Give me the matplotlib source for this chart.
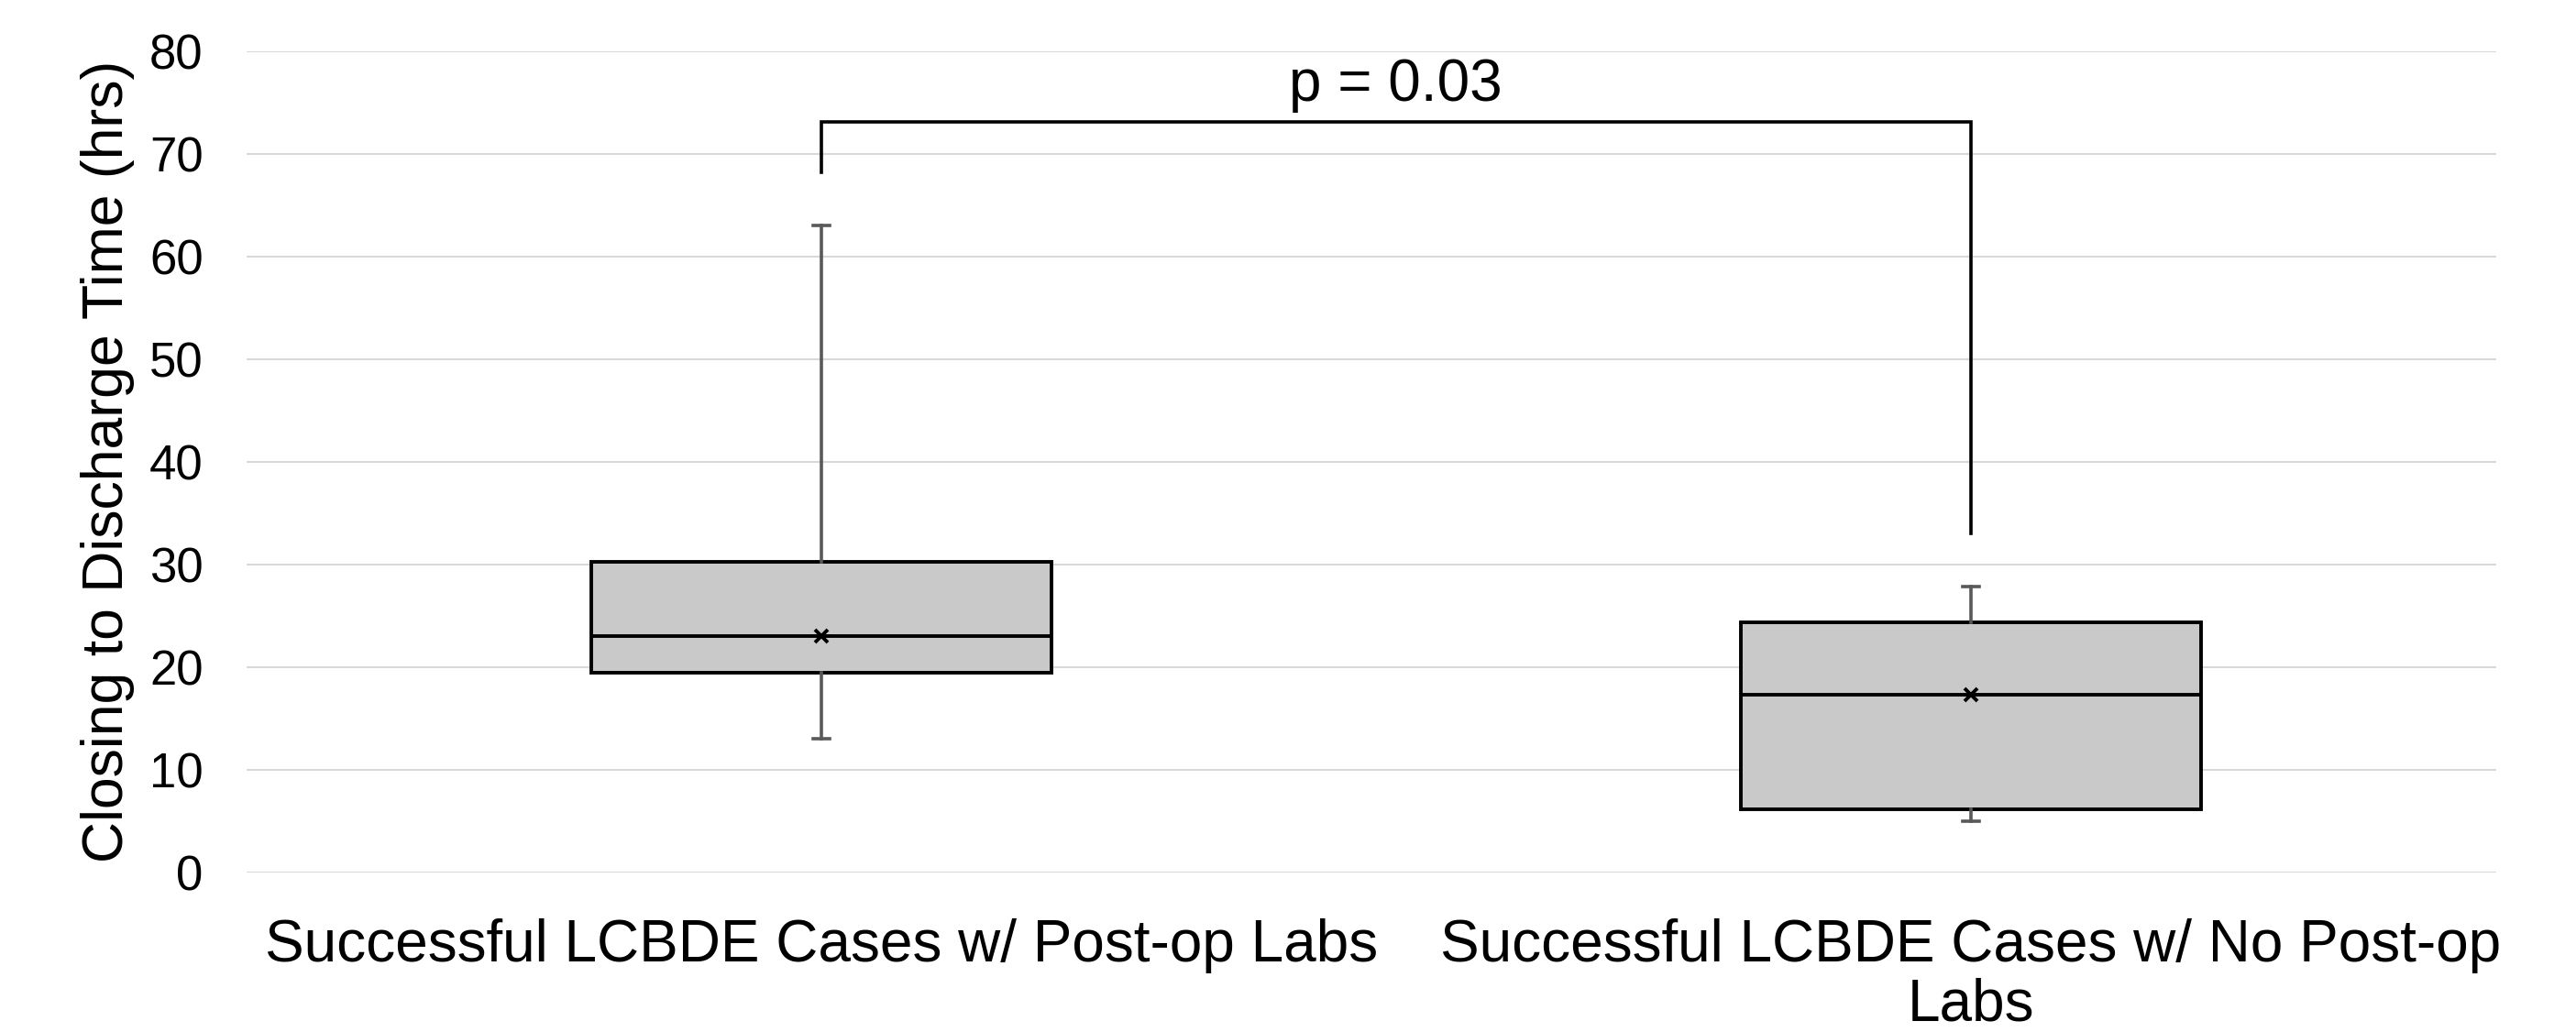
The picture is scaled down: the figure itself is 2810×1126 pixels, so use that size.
import matplotlib.pyplot as plt

# box stats (hrs)
groups = ["Successful LCBDE Cases w/ Post-op Labs",
          "Successful LCBDE Cases w/ No Post-op\nLabs"]
whisker_low = [13.0, 5.0]
q1 = [19.4, 6.1]
median = [23.0, 17.3]
mean = [23.0, 17.3]
q3 = [30.2, 24.3]
whisker_high = [63.0, 27.8]

p_text = "p = 0.03"
bracket_top = 73.1
bracket_left_end = 68.2
bracket_right_end = 33.0

plt.rcParams['font.family'] = ['Liberation Sans', 'DejaVu Sans']

fig = plt.figure(figsize=(28.1, 11.26), dpi=100)
ax = fig.add_axes([0.0957, 0.1549, 0.8733, 0.7957])

stats = []
for i in range(len(groups)):
    stats.append({
        "whislo": whisker_low[i], "q1": q1[i], "med": median[i],
        "mean": mean[i], "q3": q3[i], "whishi": whisker_high[i],
        "fliers": [], "label": groups[i],
    })

pos = [1, 2]
ax.bxp(stats, positions=pos, widths=0.4, capwidths=0.014,
       showmeans=True, patch_artist=True,
       boxprops=dict(facecolor="#c9c9c9", edgecolor="black", linewidth=2.8),
       medianprops=dict(color="black", linewidth=2.8),
       whiskerprops=dict(color="#595959", linewidth=2.6),
       capprops=dict(color="#595959", linewidth=2.6),
       meanprops=dict(marker="x", markeredgecolor="black", markersize=10,
                      markeredgewidth=2.8))

# significance bracket
ax.plot([pos[0], pos[0], pos[1], pos[1]],
        [bracket_left_end, bracket_top, bracket_top, bracket_right_end],
        color="black", linewidth=2.6, solid_joinstyle="miter")
ax.text((pos[0] + pos[1]) / 2, bracket_top + 0.9, p_text, ha="center",
        va="bottom", fontsize=46)

ax.set_xlim(0.5, 2.457)
ax.set_ylim(0, 80)
ax.set_yticks(range(0, 81, 10))
ax.grid(axis="y", color="#d9d9d9", linewidth=1.5)
ax.set_axisbelow(True)
for s in ax.spines.values():
    s.set_visible(False)
ax.tick_params(axis="y", length=0, pad=34, labelsize=38)
ax.tick_params(axis="x", length=0, pad=36, labelsize=46)
ax.set_xticks(pos)
ax.set_xticklabels(groups, multialignment="center", linespacing=1.1)

ax.set_ylabel("Closing to Discharge Time (hrs)", fontsize=45)
ax.yaxis.set_label_coords(-0.0495, 0.5)

fig.savefig("out.png", dpi=100)
